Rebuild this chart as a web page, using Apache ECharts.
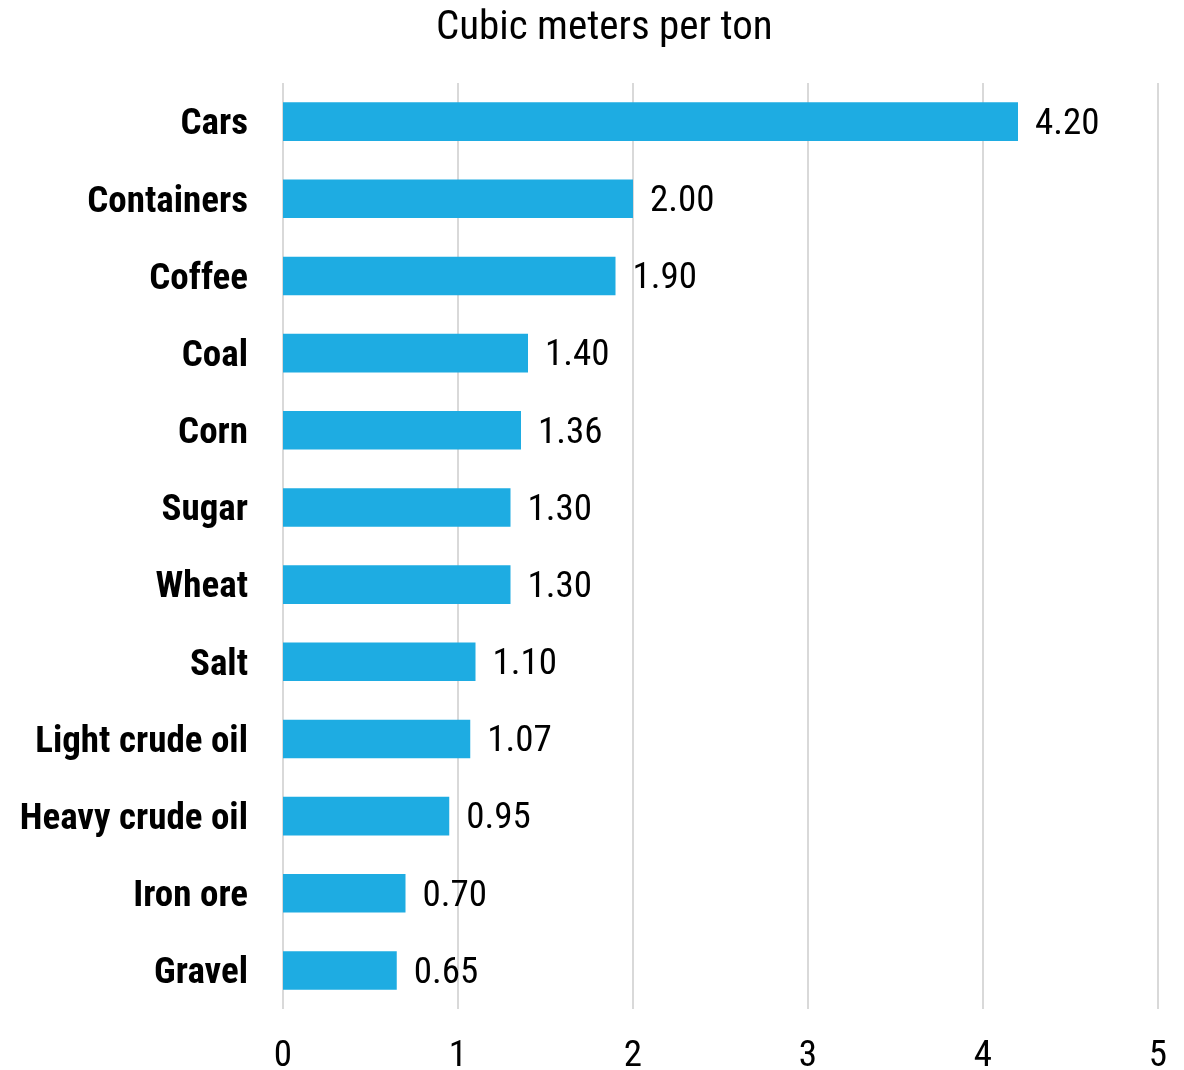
<!DOCTYPE html>
<html>
<head>
<meta charset="utf-8">
<script src="https://cdn.jsdelivr.net/npm/echarts@6/dist/echarts.min.js"></script>
<style>
html,body{margin:0;padding:0;background:#fff;}
#chart{width:1184px;height:1070px;}
</style>
</head>
<body>
<div id="chart"></div>
<script>
const categories = ["Cars","Containers","Coffee","Coal","Corn","Sugar","Wheat","Salt","Light crude oil","Heavy crude oil","Iron ore","Gravel"];
const values = [4.20,2.00,1.90,1.40,1.36,1.30,1.30,1.10,1.07,0.95,0.70,0.65];
const xTicks = [0,1,2,3,4,5];
const titleText = "Cubic meters per ton";

const FONT = '"Roboto Condensed","Liberation Sans Narrow","Arial Narrow",sans-serif';
const chart = echarts.init(document.getElementById('chart'), null, {renderer:'canvas'});
chart.setOption({
  animation:false,
  backgroundColor:'#ffffff',
  title:{
    text:titleText,
    left:431, top:3,
    textStyle:{fontFamily:FONT,fontSize:41,fontWeight:'normal',color:'#000'}
  },
  grid:{left:283,right:26,top:83,height:926,containLabel:false,outerBoundsMode:'none'},
  xAxis:{
    type:'value',min:xTicks[0],max:xTicks[xTicks.length-1],interval:1,
    axisLine:{show:false},axisTick:{show:false},
    axisLabel:{fontFamily:FONT,fontSize:37,color:'#000',margin:29},
    splitLine:{show:true,lineStyle:{color:'#d9d9d9',width:2}}
  },
  yAxis:{
    type:'category',data:categories,inverse:true,
    axisLine:{show:false},axisTick:{show:false},
    axisLabel:{
      margin:35,
      formatter:v=>'{a|'+v+'}',
      rich:{a:{fontFamily:FONT,fontSize:37,fontWeight:'bold',color:'#000',padding:[7,0,0,0]}}
    }
  },
  series:[{
    type:'bar',data:values,barWidth:'50%',
    itemStyle:{color:'#1eace2'},
    label:{show:true,position:'right',distance:17,offset:[0,3],fontFamily:FONT,fontSize:37,color:'#000',
      formatter:p=>p.value.toFixed(2)}
  }]
});
</script>
</body>
</html>
